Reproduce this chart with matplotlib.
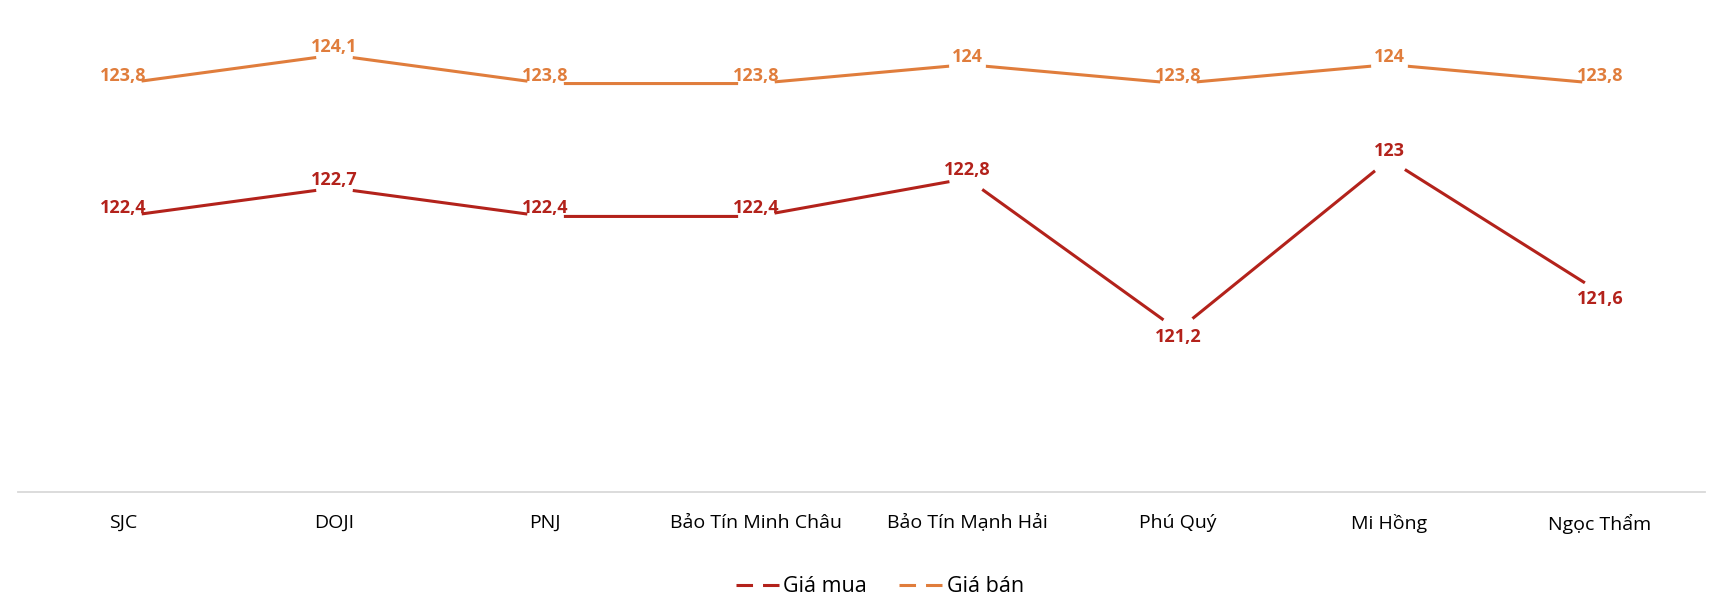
import matplotlib
matplotlib.use("Agg")
import matplotlib.pyplot as plt
from matplotlib.lines import Line2D
import numpy as np

plt.rcParams['font.family'] = ['Open Sans', 'DejaVu Sans']
plt.rcParams['lines.scale_dashes'] = False

categories = ["SJC", "DOJI", "PNJ", "Bảo Tín Minh Châu", "Bảo Tín Mạnh Hải",
              "Phú Quý", "Mi Hồng", "Ngọc Thẩm"]
gia_mua = [122.4, 122.7, 122.4, 122.4, 122.8, 121.2, 123.0, 121.6]
gia_ban = [123.8, 124.1, 123.8, 123.8, 124.0, 123.8, 124.0, 123.8]
series_names = ["Giá mua", "Giá bán"]

RED = "#B3221B"
ORANGE = "#E07D3C"

fig = plt.figure(figsize=(17.22, 6.02), dpi=100)
ax = fig.add_axes([0.0102, 0.1832, 0.9802, 0.7884])

x = np.arange(len(categories))

def fmt(v):
    s = ("%.1f" % v).rstrip("0").rstrip(".")
    return s.replace(".", ",")

for vals, color in ((gia_mua, RED), (gia_ban, ORANGE)):
    ax.plot(x, vals, color=color, lw=2.2, marker="o", markersize=26.5,
            markerfacecolor="white", markeredgewidth=0, zorder=2,
            solid_capstyle="butt")
    mean = np.mean(vals)
    for xi, v in zip(x, vals):
        dy = -7 if v < mean - 0.5 else 8
        ax.annotate(fmt(v), (xi, v), xytext=(0, dy), textcoords="offset pixels",
                    ha="center", va="center", fontsize=13, fontweight="bold",
                    color=color, zorder=3)

ax.set_xlim(-0.5, len(categories) - 0.5)
ax.set_ylim(119.5, 124.5)
ax.set_xticks(x)
ax.set_xticklabels(categories, fontsize=14, color="#000000")
ax.tick_params(axis="x", length=0, pad=16)
ax.set_yticks([])
for side in ("left", "right", "top"):
    ax.spines[side].set_visible(False)
ax.spines["bottom"].set_color("#D9D9D9")
ax.spines["bottom"].set_linewidth(1.3)

dash = (0, (11.9, 7.2, 11.9, 30))
handles = [Line2D([0], [0], color=RED, lw=2.2, linestyle=dash),
           Line2D([0], [0], color=ORANGE, lw=2.2, linestyle=dash)]
fig.legend(handles, series_names, loc="center", bbox_to_anchor=(0.511, 0.025),
           ncol=2, frameon=False, fontsize=15.5, handlelength=2.0,
           handletextpad=0.2, columnspacing=1.5)

fig.savefig("out.png", dpi=100, facecolor="white")
